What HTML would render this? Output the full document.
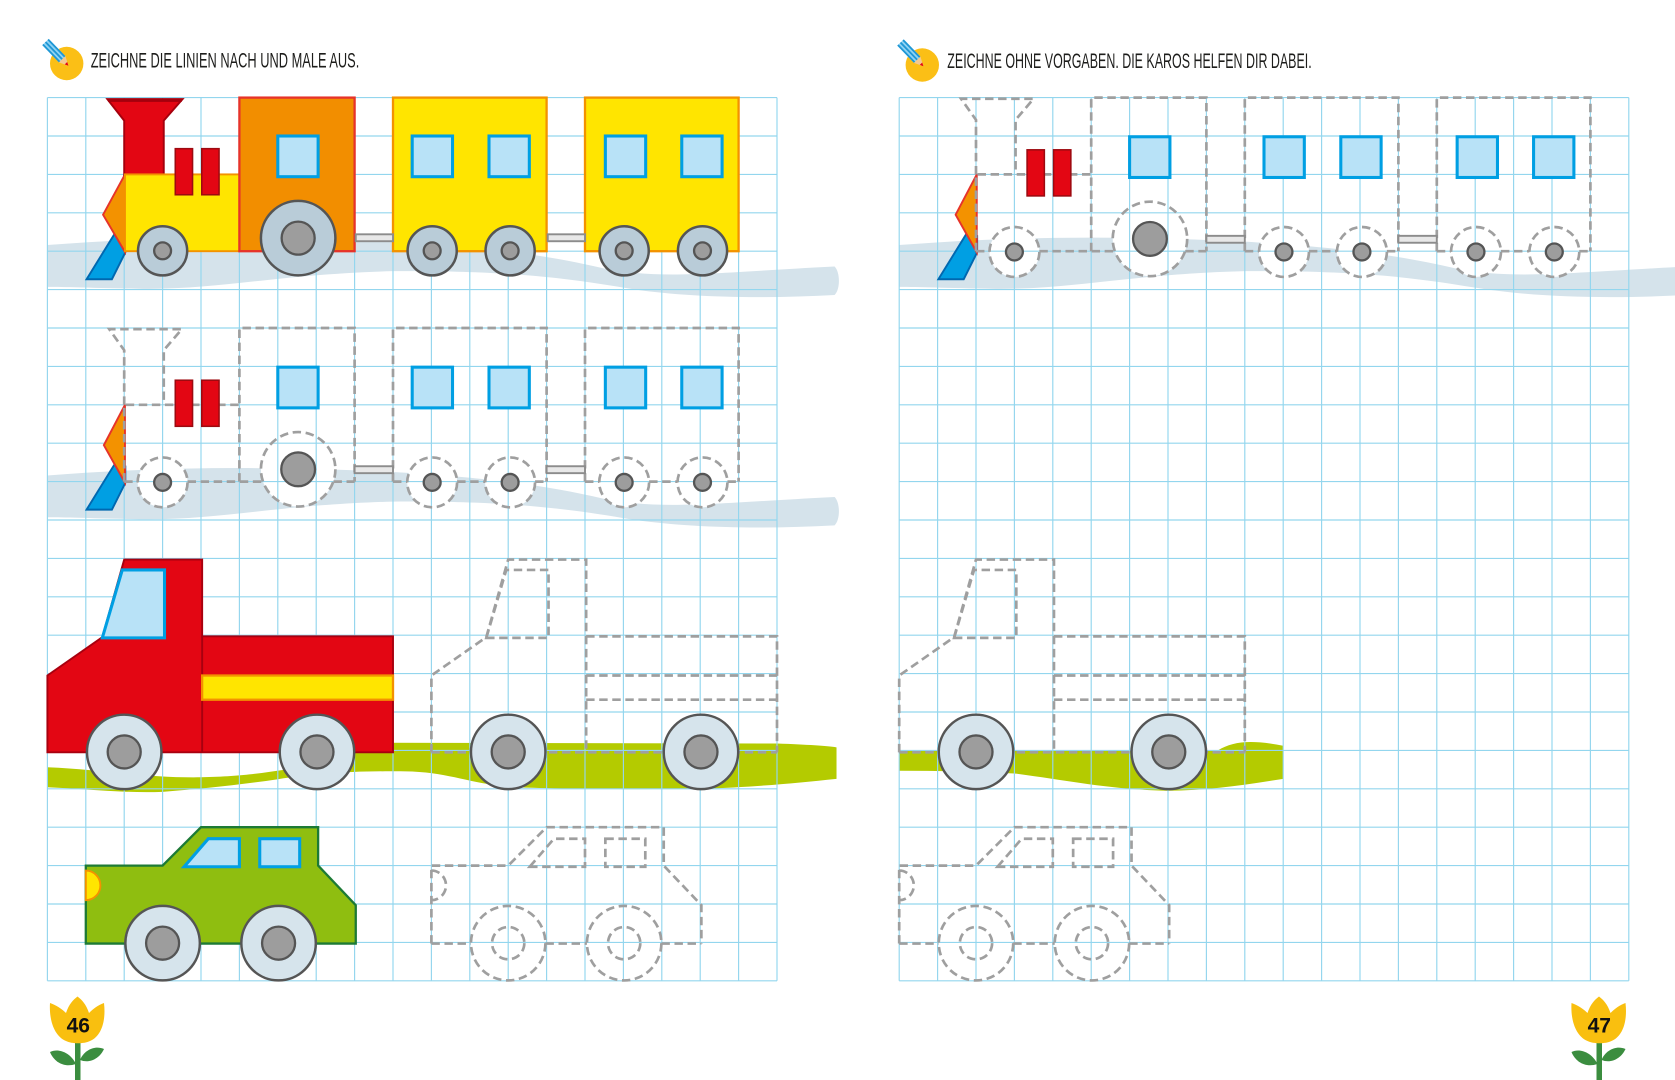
<!DOCTYPE html>
<html>
<head>
<meta charset="utf-8">
<style>
html,body{margin:0;padding:0;background:#fff;}
svg{display:block;}
.d{fill:none;stroke:#9f9f9f;stroke-width:.07;stroke-dasharray:.22 .12;}
.wt{fill:#b9ccd8;stroke:#555;stroke-width:.065;}
.wl{fill:#d6e4ec;stroke:#555;stroke-width:.065;}
.hub{fill:#9d9d9d;stroke:#555;stroke-width:.06;}
.win{fill:#b8e2f7;stroke:#009fe3;stroke-width:.08;}
.bar{fill:#e30613;stroke:#9d0a10;stroke-width:.04;}
.cpl{fill:#e8e8e8;stroke:#8c8c8c;stroke-width:.05;}
.wh{fill:#fff;}
</style>
</head>
<body>
<svg width="1675" height="1080" viewBox="0 0 1675 1080" xmlns="http://www.w3.org/2000/svg">
<defs>
  <path id="grid" fill="none" stroke="#93d6ee" stroke-width="0.03" d="M0,0V23M1,0V23M2,0V23M3,0V23M4,0V23M5,0V23M6,0V23M7,0V23M8,0V23M9,0V23M10,0V23M11,0V23M12,0V23M13,0V23M14,0V23M15,0V23M16,0V23M17,0V23M18,0V23M19,0V23M0,0H19M0,1H19M0,2H19M0,3H19M0,4H19M0,5H19M0,6H19M0,7H19M0,8H19M0,9H19M0,10H19M0,11H19M0,12H19M0,13H19M0,14H19M0,15H19M0,16H19M0,17H19M0,18H19M0,19H19M0,20H19M0,21H19M0,22H19M0,23H19"/>
  <path id="gw" fill="#d5e3eb" d="M0,3.84 C3,3.6 6,3.6 9,3.75 C11.5,3.9 13,4.1 14.5,4.45 C16,4.75 17.5,4.55 20.5,4.4 C20.65,4.55 20.65,5.0 20.5,5.14 C18.5,5.25 16.5,5.2 15,4.95 C13.5,4.7 12,4.5 9,4.52 C6,4.6 4.5,5.0 2.5,4.98 C1.2,4.96 0.5,4.93 0,4.93 Z"/>

  <g id="dtrainWhite">
    <circle class="wh" cx="3" cy="4.02" r="0.65"/>
    <circle class="wh" cx="6.53" cy="3.68" r="0.97"/>
    <circle class="wh" cx="10.02" cy="4.02" r="0.65"/>
    <circle class="wh" cx="12.05" cy="4.02" r="0.65"/>
    <circle class="wh" cx="15.02" cy="4.02" r="0.65"/>
    <circle class="wh" cx="17.06" cy="4.02" r="0.65"/>
  </g>

  <g id="dtrain">
    <polygon points="1.78,3.5 2.03,3.6 2.03,4.03 1.68,4.73 1.02,4.73" fill="#009fe3" stroke="#0068b0" stroke-width=".05"/>
    <polygon points="2.02,2 1.47,3.05 2.02,4.03" fill="#f39200" stroke="#e6332a" stroke-width=".05"/>
    <path class="d" d="M2,2 L2,0.58 L1.61,0.03 L3.5,0.03 L3.03,0.58 L3.03,2 M2,4 L2,2 L5,2 M5,4 L5,0 L8,0 L8,4 M9,4 L9,0 L13,0 L13,4 M14,4 L14,0 L18,0 L18,4 M2,4 H2.35 M3.65,4 H5.61 M7.45,4 H8 M9,4 H9.37 M10.67,4 H11.4 M12.7,4 H13 M14,4 H14.37 M15.67,4 H16.41 M17.71,4 H18"/>
    <rect class="bar" x="3.33" y="1.36" width="0.45" height="1.2"/>
    <rect class="bar" x="4.02" y="1.36" width="0.45" height="1.2"/>
    <rect class="win" x="6" y="1.02" width="1.05" height="1.06"/>
    <rect class="win" x="9.5" y="1.02" width="1.05" height="1.06"/>
    <rect class="win" x="11.5" y="1.02" width="1.05" height="1.06"/>
    <rect class="win" x="14.53" y="1.02" width="1.05" height="1.06"/>
    <rect class="win" x="16.52" y="1.02" width="1.05" height="1.06"/>
    <rect class="cpl" x="8" y="3.6" width="1" height="0.18"/>
    <rect class="cpl" x="13" y="3.6" width="1" height="0.18"/>
    <circle class="d" cx="3" cy="4.02" r="0.65"/>
    <circle class="d" cx="6.53" cy="3.68" r="0.97"/>
    <circle class="d" cx="10.02" cy="4.02" r="0.65"/>
    <circle class="d" cx="12.05" cy="4.02" r="0.65"/>
    <circle class="d" cx="15.02" cy="4.02" r="0.65"/>
    <circle class="d" cx="17.06" cy="4.02" r="0.65"/>
    <circle class="hub" cx="3" cy="4.02" r="0.22"/>
    <circle class="hub" cx="6.53" cy="3.68" r="0.44"/>
    <circle class="hub" cx="10.02" cy="4.02" r="0.22"/>
    <circle class="hub" cx="12.05" cy="4.02" r="0.22"/>
    <circle class="hub" cx="15.02" cy="4.02" r="0.22"/>
    <circle class="hub" cx="17.06" cy="4.02" r="0.22"/>
  </g>

  <g id="dtruck">
    <path class="d" d="M0,17.05 L0,15.05 L1.43,14.05 L2,12.03 L4.03,12.03 L4.03,17.05 M4.03,14.03 L9,14.03 L9,17.05 M0,17.05 L9,17.05 M4.03,15.05 L9,15.05 M4.03,15.68 L9,15.68 M1.43,14.07 L1.95,12.3 L3.05,12.3 L3.05,14.07 Z"/>
    <circle class="wl" cx="2" cy="17.04" r="0.97"/>
    <circle class="hub" cx="2" cy="17.04" r="0.43"/>
    <circle class="wl" cx="7.02" cy="17.04" r="0.97"/>
    <circle class="hub" cx="7.02" cy="17.04" r="0.43"/>
  </g>

  <g id="dcarWhite">
    <circle class="wh" cx="3" cy="22.02" r="0.97"/>
    <circle class="wh" cx="6.02" cy="22.02" r="0.97"/>
  </g>
  <g id="dcar">
    <path class="d" d="M1,22.03 L1,20 L3,20 L4,19 L7.05,19 L7.05,20 L8.03,21.03 L8.03,22.03 M1,22.03 H2.03 M3.97,22.03 H5.05 M6.99,22.03 H8.03 M3.56,20.03 L4.19,19.3 L5,19.3 L5,20.03 Z M5.53,19.3 H6.57 V20.03 H5.53 Z M1,20.13 A0.38,0.385 0 0 1 1,20.9"/>
    <circle class="d" cx="3" cy="22.02" r="0.97"/>
    <circle class="d" cx="3" cy="22.02" r="0.42"/>
    <circle class="d" cx="6.02" cy="22.02" r="0.97"/>
    <circle class="d" cx="6.02" cy="22.02" r="0.42"/>
  </g>

  <g id="flower">
    <rect x="75" y="1038" width="5.5" height="42" fill="#3b8d3f"/>
    <path d="M76,1064 C70,1052 58,1048 50,1052 C54,1062 64,1068 76,1064 Z" fill="#3b8d3f"/>
    <path d="M80,1060 C84,1050 95,1045 104,1049 C100,1058 90,1064 80,1060 Z" fill="#3b8d3f"/>
    <path d="M50,1003 C56,1005 62,1009 66,1013 C69,1004 73,1000 77.5,996.5 C82,1000 86,1004 89,1013 C93,1009 98,1005 104,1003 C106,1020 102,1036 90,1041 C84,1044 72,1044 66,1041 C54,1036 49,1020 50,1003 Z" fill="#f9bf0f"/>
  </g>

  <g id="pencil">
    <rect x="0" y="-4.5" width="24" height="9" fill="#8fd3f4"/>
    <rect x="0" y="-4.5" width="24" height="1.8" fill="#1e97d5"/>
    <rect x="0" y="-0.9" width="24" height="1.8" fill="#1e97d5"/>
    <rect x="0" y="2.7" width="24" height="1.8" fill="#1e97d5"/>
    <polygon points="24,-4.5 33,0 24,4.5" fill="#f4c88f"/>
    <polygon points="29.5,-1.7 33,0 29.5,1.7" fill="#e30613"/>
  </g>
</defs>

<!-- HEADERS -->
<circle cx="66.7" cy="63.5" r="16.7" fill="#fbbf16"/>
<use href="#pencil" transform="translate(45.5,42) rotate(46)"/>
<text x="90.7" y="67.3" font-family="'Liberation Sans Narrow','Liberation Sans',sans-serif" font-size="21.5" fill="#1d1d1b" textLength="268.6" lengthAdjust="spacingAndGlyphs">ZEICHNE DIE LINIEN NACH UND MALE AUS.</text>

<circle cx="922.3" cy="65" r="16.7" fill="#fbbf16"/>
<use href="#pencil" transform="translate(900.5,42.5) rotate(46)"/>
<text x="947.3" y="68" font-family="'Liberation Sans Narrow','Liberation Sans',sans-serif" font-size="21.5" fill="#1d1d1b" textLength="364.4" lengthAdjust="spacingAndGlyphs">ZEICHNE OHNE VORGABEN. DIE KAROS HELFEN DIR DABEI.</text>

<!-- LEFT PAGE -->
<g transform="translate(47.4,97.6) scale(38.4)">
  <use href="#gw"/>
  <use href="#gw" transform="translate(0,6)"/>
  <path fill="#b4cb00" d="M0,17.44 C1.5,17.5 2.5,17.72 4,17.7 C5,17.68 5.5,17.6 6.2,17.5 C7,17.2 7.5,16.85 8.5,16.8 L19,16.82 C19.8,16.85 20.3,16.88 20.55,16.92 L20.55,17.74 C19.5,17.85 18.5,17.95 17,18.0 C15,18.02 13,18.0 12,17.95 C11,17.85 10.5,17.6 9.5,17.55 C8,17.52 7,17.6 6,17.75 C5,17.9 4,18.0 3,18.08 C2,18.12 1,18.0 0,17.96 Z"/>
  <use href="#dtrainWhite" transform="translate(0,6)"/>
  <use href="#dcarWhite" transform="translate(9,0)"/>
  <use href="#grid"/>

  <!-- colored train row 1 -->
  <polygon points="1.78,3.5 2.03,3.6 2.03,4.03 1.68,4.73 1.02,4.73" fill="#009fe3" stroke="#0068b0" stroke-width=".05"/>
  <polygon points="2.02,2 1.45,3.05 2.02,4.02" fill="#f39200" stroke="#e6332a" stroke-width=".05"/>
  <polygon points="1.56,0.04 3.52,0.04 3.03,0.6 3.03,2.02 2,2.02 2,0.6" fill="#e30613" stroke="#a5000d" stroke-width=".05"/>
  <line x1="1.58" y1="0.07" x2="3.5" y2="0.07" stroke="#a5000d" stroke-width=".08"/>
  <rect x="2.02" y="2" width="2.98" height="2" fill="#ffe500" stroke="#f39200" stroke-width=".05"/>
  <rect class="bar" x="3.33" y="1.33" width="0.45" height="1.2"/>
  <rect class="bar" x="4.02" y="1.33" width="0.45" height="1.2"/>
  <rect x="5" y="0" width="3" height="4" fill="#f28e00" stroke="#e6332a" stroke-width=".06"/>
  <rect class="win" x="6" y="1" width="1.05" height="1.06"/>
  <rect x="9" y="0" width="4" height="4" fill="#ffe500" stroke="#f39200" stroke-width=".06"/>
  <rect x="14" y="0" width="4" height="4" fill="#ffe500" stroke="#f39200" stroke-width=".06"/>
  <rect class="win" x="9.5" y="1" width="1.05" height="1.06"/>
  <rect class="win" x="11.5" y="1" width="1.05" height="1.06"/>
  <rect class="win" x="14.53" y="1" width="1.05" height="1.06"/>
  <rect class="win" x="16.52" y="1" width="1.05" height="1.06"/>
  <rect class="cpl" x="8.03" y="3.56" width="0.97" height="0.18"/>
  <rect class="cpl" x="13.03" y="3.56" width="0.97" height="0.18"/>
  <circle class="wt" cx="3" cy="3.99" r="0.64"/><circle class="hub" cx="3" cy="3.99" r="0.22"/>
  <circle class="wt" cx="6.53" cy="3.66" r="0.97"/><circle class="hub" cx="6.53" cy="3.66" r="0.43"/>
  <circle class="wt" cx="10.02" cy="3.99" r="0.64"/><circle class="hub" cx="10.02" cy="3.99" r="0.22"/>
  <circle class="wt" cx="12.05" cy="3.99" r="0.64"/><circle class="hub" cx="12.05" cy="3.99" r="0.22"/>
  <circle class="wt" cx="15.02" cy="3.99" r="0.64"/><circle class="hub" cx="15.02" cy="3.99" r="0.22"/>
  <circle class="wt" cx="17.06" cy="3.99" r="0.64"/><circle class="hub" cx="17.06" cy="3.99" r="0.22"/>

  <use href="#dtrain" transform="translate(0,6)"/>

  <!-- red truck -->
  <path d="M0,15.05 L1.43,14.05 L2,12.03 L4.03,12.03 L4.03,14.03 L9,14.03 L9,17.05 L0,17.05 Z" fill="#e30613" stroke="#a8000f" stroke-width=".05"/>
  <line x1="4.03" y1="14.03" x2="4.03" y2="17.05" stroke="#a8000f" stroke-width=".05"/>
  <polygon class="win" points="1.43,14.07 1.95,12.3 3.05,12.3 3.05,14.07"/>
  <rect x="4.03" y="15.05" width="4.97" height="0.63" fill="#ffe500" stroke="#f39200" stroke-width=".06"/>
  <circle class="wl" cx="2" cy="17.04" r="0.97"/><circle class="hub" cx="2" cy="17.04" r="0.43"/>
  <circle class="wl" cx="7.02" cy="17.04" r="0.97"/><circle class="hub" cx="7.02" cy="17.04" r="0.43"/>

  <use href="#dtruck" transform="translate(10,0)"/>

  <!-- green car -->
  <path d="M1,20 L3,20 L4,19 L7.05,19 L7.05,20 L8.03,21.03 L8.03,22.03 L1,22.03 Z" fill="#8fbe10" stroke="#1d7a35" stroke-width=".06"/>
  <polygon class="win" points="3.56,20.03 4.19,19.3 5,19.3 5,20.03"/>
  <rect class="win" x="5.53" y="19.3" width="1.04" height="0.73"/>
  <path d="M1,20.13 A0.38,0.385 0 0 1 1,20.9 Z" fill="#ffe500" stroke="#f39200" stroke-width=".05"/>
  <circle class="wl" cx="3" cy="22.02" r="0.97"/><circle class="hub" cx="3" cy="22.02" r="0.43"/>
  <circle class="wl" cx="6.02" cy="22.02" r="0.97"/><circle class="hub" cx="6.02" cy="22.02" r="0.43"/>

  <use href="#dcar" transform="translate(9,0)"/>
</g>

<!-- RIGHT PAGE -->
<g transform="translate(899.2,97.6) scale(38.4)">
  <use href="#gw"/>
  <path fill="#b4cb00" d="M0,17.0 L8.3,17.0 C8.7,16.75 9.2,16.72 10,16.88 L10,17.74 C9,17.9 8,18.05 7,18.05 C5.5,18.02 4.5,17.8 3,17.6 C2,17.55 1,17.53 0,17.53 Z"/>
  <use href="#dtrainWhite"/>
  <use href="#dcarWhite" transform="translate(-1,0)"/>
  <use href="#grid"/>
  <use href="#dtrain"/>
  <use href="#dtruck"/>
  <use href="#dcar" transform="translate(-1,0)"/>
</g>

<!-- PAGE NUMBERS -->
<use href="#flower"/>
<text x="78.3" y="1032.5" text-anchor="middle" font-family="'Liberation Sans',sans-serif" font-weight="bold" font-size="21" fill="#111">46</text>
<use href="#flower" transform="translate(1521.5,0)"/>
<text x="1599.3" y="1032.5" text-anchor="middle" font-family="'Liberation Sans',sans-serif" font-weight="bold" font-size="21" fill="#111">47</text>
</svg>
</body>
</html>
